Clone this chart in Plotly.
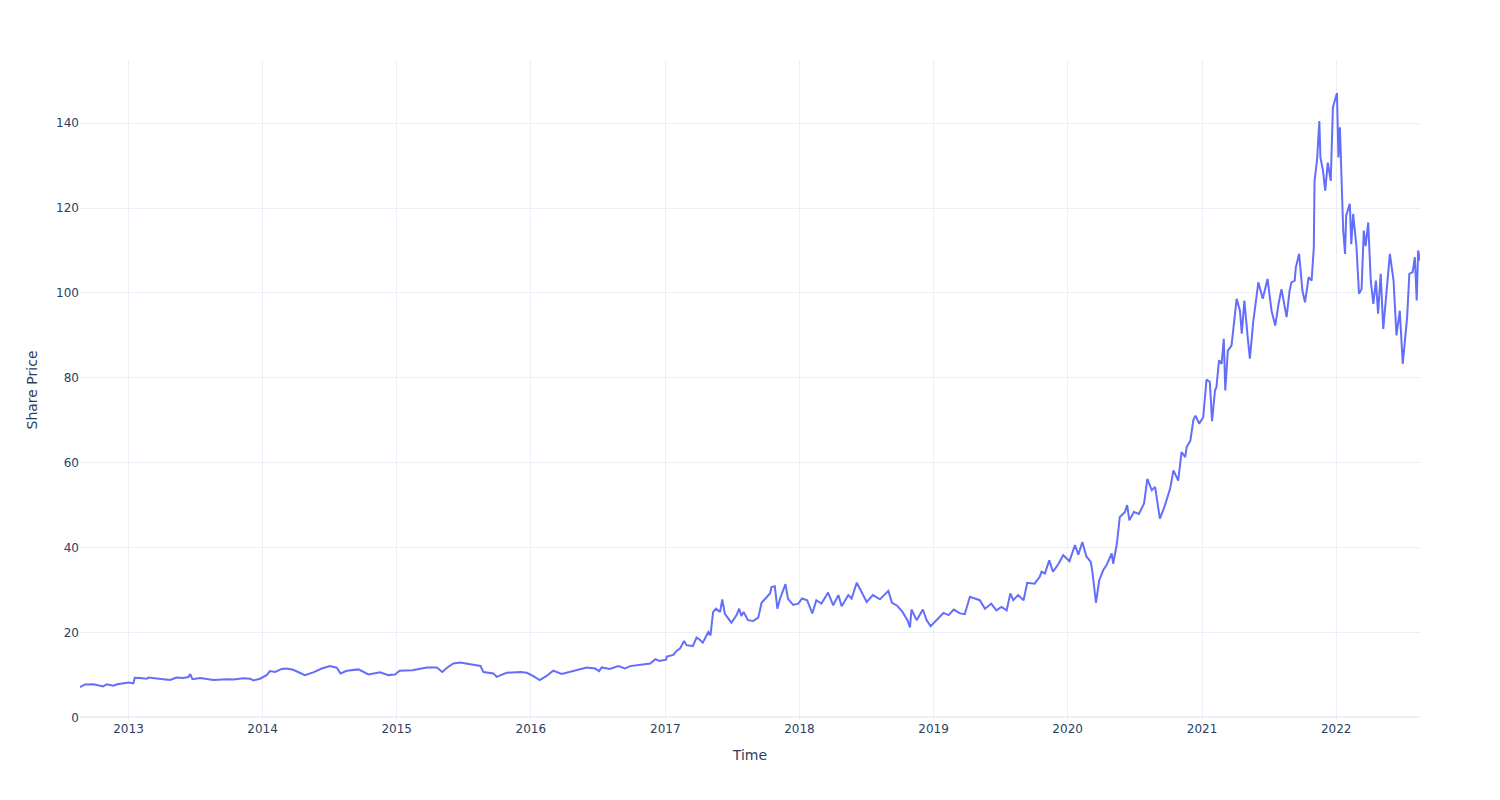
import plotly.graph_objects as go

dates = [
    "2012-08-22", "2012-09-05", "2012-09-28", "2012-10-24", "2012-11-03", "2012-11-21", "2012-12-01", "2012-12-18",
    "2013-01-02", "2013-01-14", "2013-01-18", "2013-02-01", "2013-02-20", "2013-02-24", "2013-03-19", "2013-04-06",
    "2013-04-24", "2013-05-12", "2013-05-30", "2013-06-13", "2013-06-18", "2013-06-24", "2013-07-15", "2013-08-20",
    "2013-09-25", "2013-10-13", "2013-11-10", "2013-11-28", "2013-12-07", "2013-12-25",
    "2014-01-12", "2014-01-21", "2014-02-04", "2014-02-22", "2014-03-07", "2014-03-25", "2014-04-12", "2014-04-26",
    "2014-05-19", "2014-06-11", "2014-07-03", "2014-07-22", "2014-08-01", "2014-08-18", "2014-09-19", "2014-10-16",
    "2014-11-17", "2014-12-09", "2014-12-27",
    "2015-01-09", "2015-02-13", "2015-03-24", "2015-04-20", "2015-05-05", "2015-05-18", "2015-06-04", "2015-06-22",
    "2015-07-20", "2015-08-17", "2015-08-25", "2015-09-21", "2015-09-30", "2015-10-27", "2015-12-03", "2015-12-21",
    "2016-01-08", "2016-01-25", "2016-02-12", "2016-03-02", "2016-03-25", "2016-04-18", "2016-04-26", "2016-05-13",
    "2016-06-01", "2016-06-24", "2016-07-05", "2016-07-12", "2016-08-03", "2016-08-26", "2016-09-13", "2016-09-27",
    "2016-10-24", "2016-11-21", "2016-12-05", "2016-12-16",
    "2017-01-03", "2017-01-05", "2017-01-23", "2017-02-01", "2017-02-10", "2017-02-21", "2017-02-28", "2017-03-17",
    "2017-03-27", "2017-04-05", "2017-04-13", "2017-04-28", "2017-05-04", "2017-05-11", "2017-05-19", "2017-05-30",
    "2017-06-05", "2017-06-12", "2017-06-30", "2017-07-14", "2017-07-21", "2017-07-27", "2017-08-02", "2017-08-14",
    "2017-08-28", "2017-09-11", "2017-09-20", "2017-10-04", "2017-10-13", "2017-10-17", "2017-10-26", "2017-11-02",
    "2017-11-09", "2017-11-24", "2017-12-01", "2017-12-15", "2017-12-29",
    "2018-01-08", "2018-01-22", "2018-02-05", "2018-02-16", "2018-03-02", "2018-03-20", "2018-04-03", "2018-04-17",
    "2018-04-26", "2018-05-14", "2018-05-23", "2018-06-06", "2018-06-19", "2018-07-03", "2018-07-20", "2018-08-08",
    "2018-08-31", "2018-09-10", "2018-09-24", "2018-10-08", "2018-10-22", "2018-10-29", "2018-11-02", "2018-11-16",
    "2018-12-03", "2018-12-13", "2018-12-24",
    "2019-01-10", "2019-01-28", "2019-02-11", "2019-02-25", "2019-03-14", "2019-03-27", "2019-04-10", "2019-04-24",
    "2019-05-07", "2019-05-21", "2019-06-07", "2019-06-21", "2019-07-05", "2019-07-19", "2019-07-29", "2019-08-06",
    "2019-08-19", "2019-09-03", "2019-09-13", "2019-10-03", "2019-10-17", "2019-10-22", "2019-10-31", "2019-11-12",
    "2019-11-22", "2019-12-06", "2019-12-20",
    "2020-01-06", "2020-01-21", "2020-01-30", "2020-02-10", "2020-02-21", "2020-03-04", "2020-03-09", "2020-03-18",
    "2020-03-27", "2020-04-07", "2020-04-16", "2020-04-30", "2020-05-04", "2020-05-14", "2020-05-22", "2020-06-05",
    "2020-06-11", "2020-06-17", "2020-06-29", "2020-07-13", "2020-07-27", "2020-08-05", "2020-08-17", "2020-08-26",
    "2020-09-08", "2020-09-22", "2020-10-06", "2020-10-15", "2020-10-28", "2020-11-06", "2020-11-16", "2020-11-20",
    "2020-11-30", "2020-12-08", "2020-12-14", "2020-12-24",
    "2021-01-04", "2021-01-13", "2021-01-22", "2021-01-28", "2021-02-05", "2021-02-09", "2021-02-16", "2021-02-23",
    "2021-03-01", "2021-03-05", "2021-03-12", "2021-03-22", "2021-04-05", "2021-04-14", "2021-04-19", "2021-04-26",
    "2021-05-05", "2021-05-11", "2021-05-20", "2021-06-03", "2021-06-15", "2021-06-28", "2021-07-09", "2021-07-19",
    "2021-07-28", "2021-08-05", "2021-08-19", "2021-08-27", "2021-09-01", "2021-09-10", "2021-09-13", "2021-09-22",
    "2021-10-01", "2021-10-08", "2021-10-18", "2021-10-26", "2021-11-01", "2021-11-03", "2021-11-10", "2021-11-16",
    "2021-11-19", "2021-11-26", "2021-12-02", "2021-12-09", "2021-12-17", "2021-12-23",
    "2022-01-03", "2022-01-07", "2022-01-11", "2022-01-14", "2022-01-20", "2022-01-25", "2022-01-28", "2022-02-07",
    "2022-02-11", "2022-02-16", "2022-02-25", "2022-03-04", "2022-03-11", "2022-03-17", "2022-03-22", "2022-03-29",
    "2022-04-05", "2022-04-12", "2022-04-19", "2022-04-25", "2022-05-02", "2022-05-09", "2022-05-18", "2022-05-27",
    "2022-06-06", "2022-06-14", "2022-06-23", "2022-07-01", "2022-07-07", "2022-07-13", "2022-07-19", "2022-07-28",
    "2022-08-03", "2022-08-08", "2022-08-12", "2022-08-17",
]

prices = [
    7.15, 7.75, 7.8, 7.3, 7.8, 7.45, 7.8, 8.0,
    8.2, 8.0, 9.3, 9.25, 9.1, 9.4, 9.25, 9.0,
    8.8, 9.4, 9.25, 9.5, 10.2, 9.0, 9.25, 8.8,
    9.0, 8.9, 9.2, 9.1, 8.7, 9.1,
    9.95, 10.9, 10.7, 11.4, 11.5, 11.2, 10.5, 9.95,
    10.6, 11.5, 12.07, 11.7, 10.35, 10.96, 11.3, 10.1,
    10.6, 9.95, 10.1,
    11.0, 11.1, 11.76, 11.76, 10.7, 11.7, 12.7, 12.9,
    12.5, 12.1, 10.66, 10.35, 9.55, 10.5, 10.7, 10.5,
    9.7, 8.8, 9.7, 11.0, 10.2, 10.7, 10.9, 11.3,
    11.76, 11.5, 10.9, 11.76, 11.4, 12.07, 11.5, 12.07,
    12.3, 12.7, 13.7, 13.3,
    13.6, 14.3, 14.7, 15.7, 16.2, 18.0, 17.0, 16.8,
    18.8, 18.3, 17.6, 20.1, 19.3, 24.8, 25.6, 24.8,
    27.8, 24.4, 22.3, 24.1, 25.6, 23.9, 24.8, 22.9,
    22.7, 23.5, 27.0, 28.4, 29.2, 30.7, 30.9, 25.6,
    27.9, 31.4, 27.9, 26.5, 26.8,
    28.0, 27.6, 24.5, 27.6, 26.8, 29.4, 26.4, 28.8,
    26.2, 28.8, 28.0, 31.7, 29.6, 27.2, 28.8, 27.8,
    29.8, 27.0, 26.3, 24.9, 22.9, 21.2, 25.4, 22.9,
    25.4, 22.9, 21.5,
    22.9, 24.6, 24.1, 25.4, 24.5, 24.3, 28.4, 28.0,
    27.6, 25.6, 26.8, 25.2, 26.0, 25.2, 29.2, 27.6,
    28.8, 27.6, 31.7, 31.5, 33.1, 34.3, 33.9, 37.0,
    34.3, 36.0, 38.2,
    36.8, 40.6, 38.3, 41.3, 37.9, 36.6, 33.9, 27.0,
    32.3, 34.7, 35.9, 38.6, 36.2, 40.9, 47.2, 48.4,
    50.0, 46.4, 48.4, 47.9, 50.4, 56.2, 53.5, 54.3,
    46.8, 50.0, 53.9, 58.2, 55.8, 62.5, 61.3, 63.7,
    65.2, 70.0, 71.1, 69.2,
    70.7, 79.6, 79.0, 69.8, 77.0, 77.8, 84.1, 83.3,
    89.2, 77.0, 86.4, 87.6, 98.6, 95.8, 90.4, 98.2,
    89.6, 84.5, 93.1, 102.5, 98.6, 103.3, 95.8, 92.3,
    97.4, 100.9, 94.3, 100.5, 102.5, 102.9, 106.0, 109.2,
    100.5, 97.8, 103.7, 102.9, 110.7, 126.4, 131.5, 140.5,
    131.9, 128.8, 124.1, 130.7, 126.4, 143.7,
    147.1, 131.9, 139.0, 130.4, 114.7, 109.2, 118.2, 121.0,
    111.5, 118.6, 111.0, 99.8, 100.9, 114.7, 111.0, 116.6,
    102.9, 97.4, 102.9, 95.1, 104.5, 91.5, 100.9, 109.2,
    102.9, 90.0, 95.8, 83.3, 88.8, 94.3, 104.5, 104.9,
    108.4, 98.2, 110.0, 107.6,
]

fig = go.Figure(
    go.Scatter(x=dates, y=prices, mode="lines", line=dict(color="#636efa", width=2), name="Share Price")
)
fig.update_layout(
    template="plotly_white",
    width=1500,
    height=800,
    margin=dict(t=60, l=80, r=80, b=80),
    font=dict(family="DejaVu Sans, Verdana, sans-serif"),
    xaxis_title="Time",
    yaxis_title="Share Price",
    showlegend=False,
)
fig.write_html("out.html")
